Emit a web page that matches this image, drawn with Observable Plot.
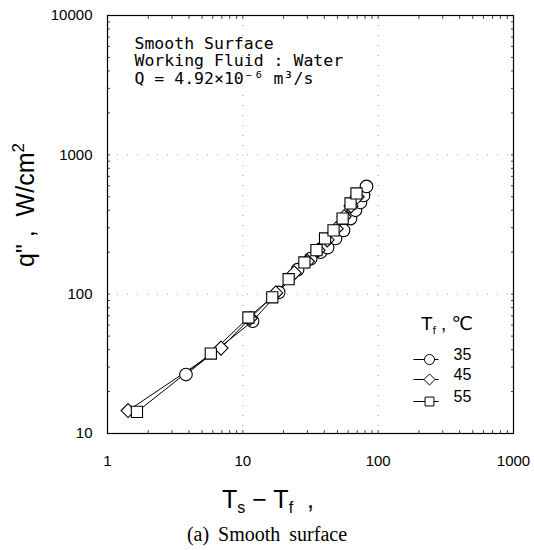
<!DOCTYPE html>
<html><head><meta charset="utf-8">
<script src="https://cdn.jsdelivr.net/npm/d3@7"></script>
<script src="https://cdn.jsdelivr.net/npm/@observablehq/plot@0.6"></script>
<style>
body{margin:0;background:#fff;}
#caption{width:534px;height:32px;line-height:32px;text-align:center;font-family:"Liberation Serif","Times New Roman",serif;font-size:20px;color:#000;word-spacing:4px;}
</style>
</head><body>
<div id="chart"></div>
<div id="caption">(a) Smooth surface</div>
<script>
// ---- data ----
const series = ["35", "45", "55"];
const symbols = ["circle", "diamond2", "square"];
const t35_x = [3.8, 11.8, 18.4, 25.4, 31.7, 37.5, 42.3, 48.4, 55.5, 62.5, 68, 74, 78, 82];
const t35_y = [26.5, 64, 103, 150, 180, 200, 216, 251, 287, 349, 400, 455, 511, 593];
const t45_x = [1.42, 6.9, 11.3, 17.5, 24, 30, 36, 42, 49, 56, 63, 70];
const t45_y = [14.6, 41, 67, 102, 142, 172, 207, 245, 295, 360, 430, 500];
const t55_x = [1.65, 5.8, 11, 16.5, 21.8, 28.5, 35, 40.5, 46.8, 54.6, 62.5, 69.2];
const t55_y = [14.3, 37.5, 68, 95, 128, 169, 207, 251, 287, 349, 448, 528];
const xTicks = [1, 10, 100, 1000];
const yTicks = [10, 100, 1000, 10000];
const annotationLines = ["Smooth Surface", "Working Fluid : Water", "Q = 4.92\u00d710\u207b\u2076 m\u00b3/s"];

const xs = [t35_x, t45_x, t55_x], ys = [t35_y, t45_y, t55_y];
const data = series.flatMap((s, k) => xs[k].map((x, i) => ({series: s, x, y: ys[k][i]})));
const minor = (lo, hi) => { const out = []; for (let d = lo; d < hi; d *= 10) for (let m = 1; m <= 9; m++) out.push(d * m); out.push(hi); return out; };
const xMinor = minor(1, 1000), yMinor = minor(10, 10000);

const H = 518;
const hline = {draw(ctx) { ctx.moveTo(-12.5, 0); ctx.lineTo(12.5, 0); }};
const legendRows = [-74, -54, -32];
const legendMarks = series.flatMap((s, i) => [
  Plot.dot([s], {frameAnchor: "bottom-right", dx: -87.5, dy: legendRows[i], symbol: hline, r: 5, stroke: "black", strokeWidth: 1}),
  Plot.dot([s], {frameAnchor: "bottom-right", dx: -84, dy: legendRows[i], symbol: symbols[i], r: 5, stroke: "black", fill: "white", strokeWidth: 1}),
  Plot.text([s], {frameAnchor: "bottom-right", dx: -60, dy: legendRows[i], text: d => d, textAnchor: "start", fontSize: 16})
]);
const annotationMarks = annotationLines.map((t, i) =>
  Plot.text([t], {frameAnchor: "top-left", dx: 27, dy: 28 + i * 17.5, text: d => d, lineAnchor: "middle", textAnchor: "start", fontFamily: "DejaVu Sans Mono, monospace", fontSize: 16.5})
);

const plot = Plot.plot({
  width: 534, height: H,
  marginLeft: 107, marginRight: 21, marginTop: 15, marginBottom: H - 433,
  style: {fontFamily: "Liberation Sans, Arial, sans-serif", fontSize: "15px", color: "black", background: "white"},
  x: {type: "log", domain: [1, 1000]},
  y: {type: "log", domain: [10, 10000]},
  symbol: {domain: series, range: symbols},
  marks: [
    Plot.gridX({ticks: [10, 100], stroke: "#777", strokeOpacity: 0.7, strokeDasharray: "1,9"}),
    Plot.gridY({ticks: [100, 1000], stroke: "#777", strokeOpacity: 0.7, strokeDasharray: "1,9"}),
    Plot.axisX({ticks: xMinor, anchor: "bottom", tickSize: -3, fill: "none", stroke: "#444", label: null}),
    Plot.axisX({ticks: xMinor, anchor: "top", tickSize: -3, fill: "none", stroke: "#444", label: null}),
    Plot.axisY({ticks: yMinor, anchor: "left", tickSize: -3, fill: "none", stroke: "#444", label: null}),
    Plot.axisY({ticks: yMinor, anchor: "right", tickSize: -3, fill: "none", stroke: "#444", label: null}),
    Plot.axisX({ticks: xTicks, anchor: "bottom", tickSize: 0, tickPadding: 22, tickFormat: d => String(d), fontSize: 15, label: null}),
    Plot.axisY({ticks: yTicks, anchor: "left", tickSize: 0, tickPadding: 15, tickFormat: d => String(d), fontSize: 15, label: null}),
    Plot.frame({stroke: "black", strokeWidth: 1.2}),
    Plot.line(data, {x: "x", y: "y", z: "series", stroke: "black", strokeWidth: 1}),
    Plot.dot(data, {x: "x", y: "y", symbol: "series", r: 6.3, stroke: "black", fill: "white", strokeWidth: 1.1}),
    ...annotationMarks,
    ...legendMarks
  ]
});

const svg = d3.select(plot);
// legend title
const lt = svg.append("text").attr("x", 447).attr("y", 330)
  .attr("font-family", "Liberation Sans, DejaVu Sans, sans-serif").attr("font-size", 19).attr("fill", "black");
lt.append("tspan").text("T");
lt.append("tspan").attr("font-size", 11).attr("dy", 4).text("f");
lt.append("tspan").attr("dy", -4).text(" , \u2103");
// y title
const yt = svg.append("text").attr("transform", "translate(34,205) rotate(-90)")
  .attr("text-anchor", "middle").attr("font-family", "Liberation Sans, Arial, sans-serif").attr("font-size", 25).attr("fill", "black");
yt.append("tspan").text("q\" ,  W/cm");
yt.append("tspan").attr("font-size", 17).attr("dy", -10).text("2");
// x title
const xt = svg.append("text").attr("x", 268).attr("y", 508)
  .attr("font-family", "Liberation Sans, Arial, sans-serif").attr("font-size", 25).attr("fill", "black");
xt.append("tspan").text("T");
xt.append("tspan").attr("font-size", 16).attr("dy", 5).text("s");
xt.append("tspan").attr("dy", -5).text(" \u2212 T");
xt.append("tspan").attr("font-size", 16).attr("dy", 5).text("f");
xt.append("tspan").attr("dy", -5).text("  ,");

document.getElementById("chart").appendChild(plot);
</script>
</body></html>
